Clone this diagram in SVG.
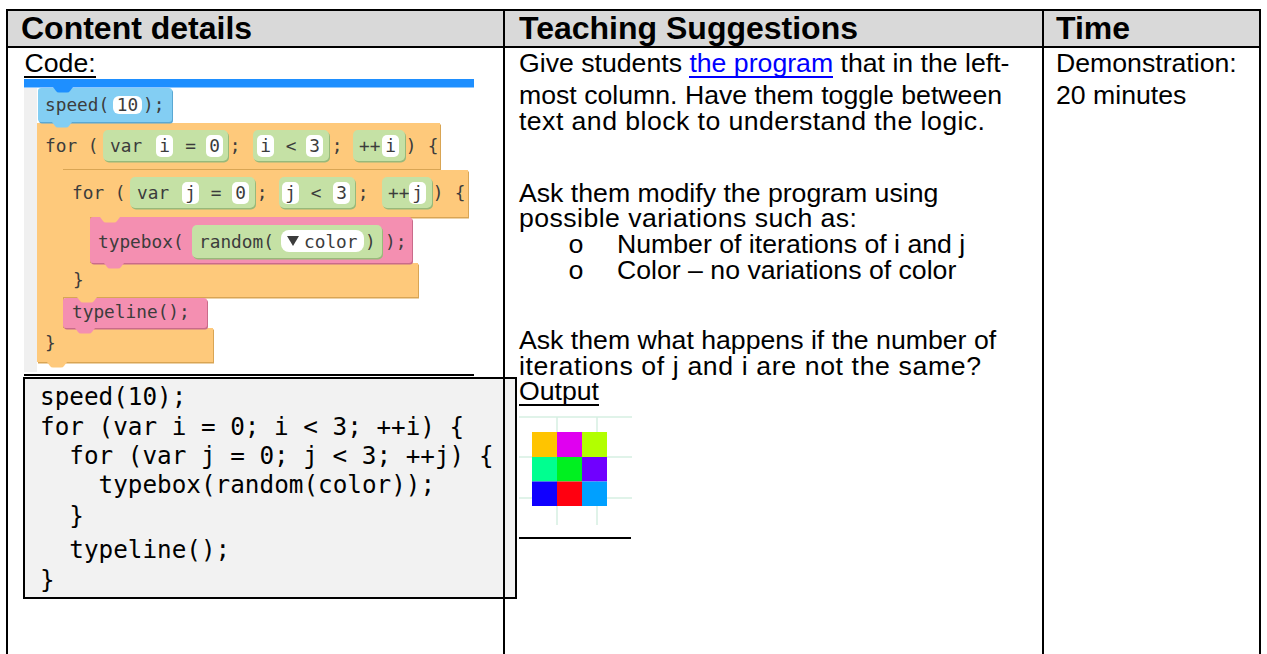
<svg xmlns="http://www.w3.org/2000/svg" width="1267" height="654" viewBox="0 0 1267 654">
<style>
.hdr{font:bold 32px "Liberation Sans",Arial,sans-serif;fill:#000}
.txt{font:26.67px "Liberation Sans",Arial,sans-serif;fill:#000}
.link{fill:#0000ff}
.bul{font:26.67px "Liberation Mono","Courier New",monospace;fill:#000}
.code{font:24.3px "DejaVu Sans Mono","Liberation Mono",monospace;fill:#000}
.bk{font:17.8px "DejaVu Sans Mono","Liberation Mono",monospace;fill:#3c3c3c}
.mid{text-anchor:middle}
.rule{stroke:#000;stroke-width:2;fill:none}
.blue{fill:#83cef3}.blueS{fill:#5aa8d3}
.orange{fill:#fec97b}.orangeS{fill:#d9a554}
.pink{fill:#f48fb1}.pinkS{fill:#c96b8a}
.green{fill:#c5e1a5}.greenS{fill:#98b97a}
.field{fill:#fff}
.grid{stroke:#d6efe2;stroke-width:1.5}
</style>
<defs>
<path id="tab" d="M0,0 l3,4 q1,1.5 3,1.5 h8 q2,0 3,-1.5 l3,-4 z"/>
</defs>

<!-- table frame -->
<g id="table">
<rect x="8" y="11" width="1251" height="35" fill="#d9d9d9"/>
<line class="rule" x1="6" y1="10" x2="1261" y2="10"/>
<line class="rule" x1="6" y1="47" x2="1261" y2="47"/>
<line class="rule" x1="7" y1="9" x2="7" y2="654"/>
<line class="rule" x1="1260" y1="9" x2="1260" y2="654"/>
<line class="rule" x1="1043" y1="9" x2="1043" y2="654"/>
<text class="hdr" x="21" y="39">Content details</text>
<text class="hdr" x="519" y="39">Teaching Suggestions</text>
<text class="hdr" x="1056" y="39">Time</text>
</g>

<!-- left column: block program -->
<g id="code-label">
<text class="txt" x="24.5" y="72">Code:</text>
<line x1="24" y1="77" x2="96" y2="77" stroke="#000" stroke-width="2"/>
</g>

<g id="blocks">
<rect x="24" y="79" width="450" height="8.5" fill="#1e8fff"/>
<rect x="24" y="88" width="13" height="284" fill="#f0f0f0"/>

<!-- outer for loop -->
<path class="orangeS" transform="translate(1,1.5)" d="M37,123 H440 V169 H63 V328 H213 V362 H37 Z"/>
<path class="orange" d="M37,123 H440 V169 H63 V328 H213 V362 H37 Z"/>
<!-- inner for loop -->
<path class="orangeS" transform="translate(1,1.5)" d="M63,170 H468 V217 H90 V263 H418 V297 H63 Z"/>
<path class="orange" d="M63,170 H468 V217 H90 V263 H418 V297 H63 Z"/>
<!-- speed -->
<rect class="blueS" x="39" y="89.5" width="134" height="34" rx="3"/>
<rect class="blue" x="38" y="88" width="134" height="34" rx="3"/>
<!-- typebox -->
<rect class="pinkS" x="91" y="218.5" width="322" height="46" rx="3"/>
<rect class="pink" x="90" y="217" width="322" height="46" rx="3"/>
<!-- typeline -->
<rect class="pinkS" x="64" y="299.5" width="144" height="30" rx="3"/>
<rect class="pink" x="63" y="298" width="144" height="30" rx="3"/>

<!-- connection tabs -->
<use href="#tab" x="53" y="87" fill="#1e8fff"/>
<use href="#tab" x="52" y="122" class="blue"/>
<use href="#tab" x="100" y="217" class="orange"/>
<use href="#tab" x="104" y="263" class="pink"/>
<use href="#tab" x="77" y="297" class="orange"/>
<use href="#tab" x="75" y="328" class="pink"/>
<use href="#tab" x="47" y="362" class="orange"/>

<!-- speed(10); -->
<text class="bk" x="45" y="111">speed(</text>
<rect class="field" x="113" y="96" width="29" height="18" rx="6"/>
<text class="bk mid" x="127.5" y="111">10</text>
<text class="bk" x="143" y="111">);</text>

<!-- for (var i = 0; i < 3; ++i) { -->
<text class="bk" x="45" y="152">for (</text>
<rect class="greenS" x="104" y="131.5" width="125" height="31" rx="5"/>
<rect class="green" x="103" y="130" width="125" height="31" rx="5"/>
<text class="bk" x="110" y="152">var</text>
<rect class="field" x="156" y="135" width="17" height="22" rx="5"/>
<text class="bk mid" x="164.5" y="152">i</text>
<text class="bk mid" x="190.5" y="152">=</text>
<rect class="field" x="206" y="135" width="17" height="22" rx="5"/>
<text class="bk mid" x="214.5" y="152">0</text>
<text class="bk mid" x="235" y="152">;</text>
<rect class="greenS" x="254" y="131.5" width="76" height="31" rx="5"/>
<rect class="green" x="253" y="130" width="76" height="31" rx="5"/>
<rect class="field" x="257" y="135" width="17" height="22" rx="5"/>
<text class="bk mid" x="265.5" y="152">i</text>
<text class="bk mid" x="291" y="152">&lt;</text>
<rect class="field" x="306" y="135" width="17" height="22" rx="5"/>
<text class="bk mid" x="314.5" y="152">3</text>
<text class="bk mid" x="337" y="152">;</text>
<rect class="greenS" x="354" y="131.5" width="52" height="31" rx="5"/>
<rect class="green" x="353" y="130" width="52" height="31" rx="5"/>
<text class="bk" x="359" y="152">++</text>
<rect class="field" x="382" y="135" width="17" height="22" rx="5"/>
<text class="bk mid" x="390.5" y="152">i</text>
<text class="bk mid" x="411" y="152">)</text>
<text class="bk mid" x="433" y="152">{</text>

<!-- for (var j = 0; j < 3; ++j) { -->
<text class="bk" x="72" y="199">for (</text>
<rect class="greenS" x="131" y="178.5" width="125" height="31" rx="5"/>
<rect class="green" x="130" y="177" width="125" height="31" rx="5"/>
<text class="bk" x="137" y="199">var</text>
<rect class="field" x="182" y="182" width="17" height="22" rx="5"/>
<text class="bk mid" x="190.5" y="199">j</text>
<text class="bk mid" x="216" y="199">=</text>
<rect class="field" x="232" y="182" width="17" height="22" rx="5"/>
<text class="bk mid" x="240.5" y="199">0</text>
<text class="bk mid" x="262" y="199">;</text>
<rect class="greenS" x="280" y="178.5" width="76" height="31" rx="5"/>
<rect class="green" x="279" y="177" width="76" height="31" rx="5"/>
<rect class="field" x="282" y="182" width="17" height="22" rx="5"/>
<text class="bk mid" x="290.5" y="199">j</text>
<text class="bk mid" x="316" y="199">&lt;</text>
<rect class="field" x="333" y="182" width="17" height="22" rx="5"/>
<text class="bk mid" x="341.5" y="199">3</text>
<text class="bk mid" x="363" y="199">;</text>
<rect class="greenS" x="383" y="178.5" width="50" height="31" rx="5"/>
<rect class="green" x="382" y="177" width="50" height="31" rx="5"/>
<text class="bk" x="388" y="199">++</text>
<rect class="field" x="409" y="182" width="17" height="22" rx="5"/>
<text class="bk mid" x="417.5" y="199">j</text>
<text class="bk mid" x="438" y="199">)</text>
<text class="bk mid" x="460" y="199">{</text>

<!-- typebox(random(color)); -->
<text class="bk" x="98" y="248">typebox(</text>
<rect class="greenS" x="193" y="226.5" width="190" height="33" rx="5"/>
<rect class="green" x="192" y="225" width="190" height="33" rx="5"/>
<text class="bk" x="199" y="248">random(</text>
<rect class="field" x="281" y="230" width="83" height="22" rx="8"/>
<path d="M287,236 h12 l-6,10 z" fill="#3c3c3c"/>
<text class="bk" x="304" y="248">color</text>
<text class="bk" x="365" y="248">)</text>
<text class="bk" x="385" y="248">);</text>

<text class="bk" x="73" y="286">}</text>
<text class="bk" x="72" y="318">typeline();</text>
<text class="bk" x="45" y="349">}</text>

<line x1="24" y1="375" x2="474" y2="375" stroke="#000" stroke-width="2"/>
</g>

<!-- left column: text program -->
<g id="code-text">
<rect x="24" y="378" width="492" height="220" fill="#f2f2f2" stroke="#000" stroke-width="2"/>
<text class="code" x="40" y="405">speed(10);</text>
<text class="code" x="40" y="435">for (var i = 0; i &lt; 3; ++i) {</text>
<text class="code" x="69.3" y="464">for (var j = 0; j &lt; 3; ++j) {</text>
<text class="code" x="98.6" y="493">typebox(random(color));</text>
<text class="code" x="69.3" y="524">}</text>
<text class="code" x="69.3" y="558">typeline();</text>
<text class="code" x="40" y="588">}</text>
</g>

<line id="col-divider" class="rule" x1="504" y1="9" x2="504" y2="654"/>

<!-- middle column -->
<g id="suggestions">
<text class="txt" x="519" y="72">Give students <tspan class="link">the program</tspan> that in the left-</text>
<line x1="689" y1="77" x2="833" y2="77" stroke="#0000ff" stroke-width="2"/>
<text class="txt" x="519" y="104">most column. Have them toggle between</text>
<text class="txt" x="519" y="130" textLength="466" lengthAdjust="spacing">text and block to understand the logic.</text>
<text class="txt" x="519" y="202">Ask them modify the program using</text>
<text class="txt" x="519" y="227" textLength="338" lengthAdjust="spacing">possible variations such as:</text>
<text class="bul" x="568" y="253">o</text>
<text class="txt" x="617" y="253">Number of iterations of i and j</text>
<text class="bul" x="568" y="279">o</text>
<text class="txt" x="617" y="279">Color – no variations of color</text>
<text class="txt" x="519" y="349">Ask them what happens if the number of</text>
<text class="txt" x="519" y="375" textLength="462" lengthAdjust="spacing">iterations of j and i are not the same?</text>
<text class="txt" x="519" y="400">Output</text>
<line x1="519" y1="405" x2="599" y2="405" stroke="#000" stroke-width="2"/>
</g>

<!-- output picture -->
<g id="output">
<line class="grid" x1="519" y1="417" x2="632" y2="417"/>
<line class="grid" x1="519" y1="457" x2="632" y2="457"/>
<line class="grid" x1="519" y1="498" x2="632" y2="498"/>
<line class="grid" x1="557" y1="417" x2="557" y2="525"/>
<line class="grid" x1="597" y1="417" x2="597" y2="525"/>
<rect x="532" y="432" width="25" height="25" fill="#ffc400"/>
<rect x="557" y="432" width="25" height="25" fill="#e000f0"/>
<rect x="582" y="432" width="25" height="25" fill="#b2ff00"/>
<rect x="532" y="457" width="25" height="24.5" fill="#00ff90"/>
<rect x="557" y="457" width="25" height="24.5" fill="#00f020"/>
<rect x="582" y="457" width="25" height="24.5" fill="#7000ff"/>
<rect x="532" y="481.5" width="25" height="24.5" fill="#1000ff"/>
<rect x="557" y="481.5" width="25" height="24.5" fill="#ff0010"/>
<rect x="582" y="481.5" width="25" height="24.5" fill="#00a0ff"/>
<line x1="519" y1="538" x2="631" y2="538" stroke="#000" stroke-width="2"/>
</g>

<!-- right column -->
<g id="time">
<text class="txt" x="1056" y="72">Demonstration:</text>
<text class="txt" x="1056" y="104">20 minutes</text>
</g>
</svg>
